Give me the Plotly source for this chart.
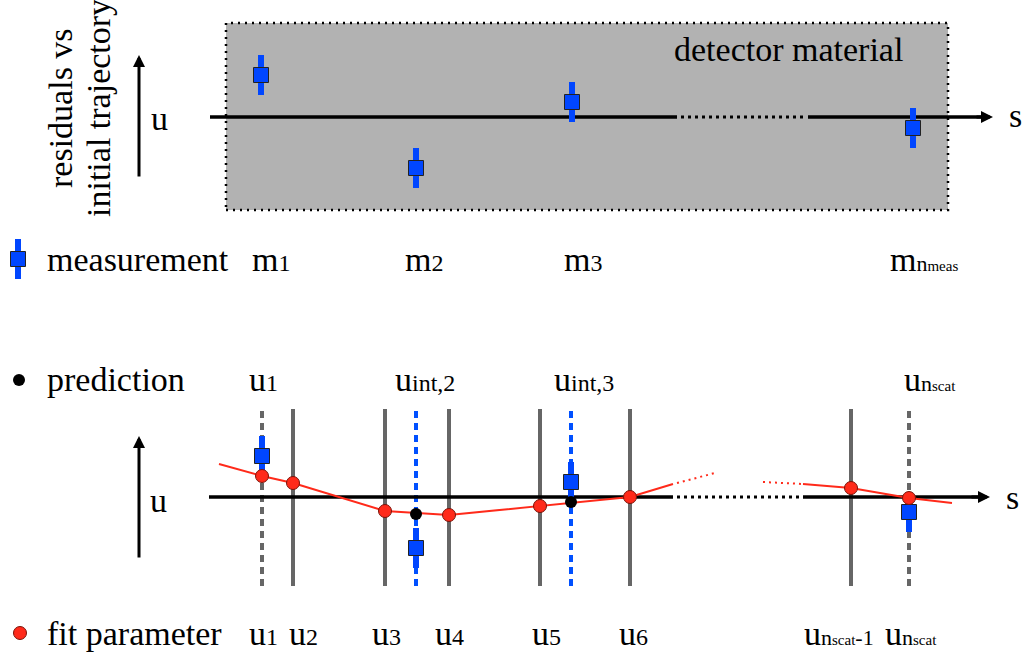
import plotly.graph_objects as go

# ---------------- data (s = position along the track, u = offset from the reference line) -------------
meas_s_top = [261, 416, 572, 913]
meas_u_top = [42, -51, 15, -11]
meas_err = [20, 20, 20, 20]

meas_s_bot = [262, 416, 571, 909]
meas_u_bot = [41, -51, 15, -15]

scat_s = [262, 293, 385, 449, 540, 630, 851, 909]
scat_has_meas = [True, False, False, False, False, False, False, True]
fit_u = [21, 14, -14, -18, -9, 0, 9, -1]

interp_s = [416, 571]
pred_u = [-17, -5]

traj_left_s = [219] + scat_s[:6] + [673]
traj_left_u = [33] + fit_u[:6] + [13]
traj_right_s = [803] + scat_s[6:] + [952]
traj_right_u = [13] + fit_u[6:] + [-6]
traj_gap_s = [677, 715, None, 763, 803]
traj_gap_u = [14, 24, None, 15, 13]


def sub(t, size=24):
    return "<span style='font-size:%dpx'>%s</span>" % (size, t)


N_SCAT = sub("n", 22) + sub("scat", 15)
N_MEAS = sub("n", 22) + sub("meas", 15)

m_labels = ["m" + sub("1"), "m" + sub("2"), "m" + sub("3"), "m" + N_MEAS]
top_u_labels = ["u" + sub("1"), "u" + sub("int,2"), "u" + sub("int,3"), "u" + N_SCAT]
bot_u_labels = ["u" + sub("1"), "u" + sub("2"), "u" + sub("3"), "u" + sub("4"), "u" + sub("5"),
                "u" + sub("6"), "u" + N_SCAT + sub("-1", 22), "u" + N_SCAT]

# ---------------- layout / style -------------
W, H = 1030, 658
AX_TOP, AX_BOT = 117, 497          # pixel rows of the two reference lines
BLUE = "#0046FF"
BLUE_LINE = "#0050FF"
RED = "#FF2A1A"
GRAY = "#666666"
FONT = "'Liberation Serif', 'Times New Roman', serif"
FS = 34

m_label_x = [250, 403, 562, 888]
top_u_label_x = [247, 393, 552, 902]
bot_u_label_x = [247, 287, 370, 433, 530, 617, 802, 883]


def py(p):
    return 1 - p / H


fig = go.Figure()

meas_marker = dict(symbol="square", size=15, color=BLUE, line=dict(color="#222222", width=1))
meas_errbar = dict(type="data", array=meas_err, visible=True, thickness=6, width=0, color=BLUE)

# top panel measurements
fig.add_trace(go.Scatter(x=meas_s_top, y=meas_u_top, mode="markers", marker=meas_marker,
                         error_y=meas_errbar, yaxis="y", hoverinfo="skip"))
# bottom panel measurements
fig.add_trace(go.Scatter(x=meas_s_bot, y=meas_u_bot, mode="markers", marker=meas_marker,
                         error_y=meas_errbar, yaxis="y2", hoverinfo="skip"))
# trajectory
fig.add_trace(go.Scatter(x=traj_left_s + [None] + traj_right_s,
                         y=traj_left_u + [None] + traj_right_u,
                         mode="lines", line=dict(color=RED, width=2), yaxis="y2", hoverinfo="skip"))
fig.add_trace(go.Scatter(x=traj_gap_s, y=traj_gap_u, mode="lines",
                         line=dict(color=RED, width=2, dash="2px,4px"), yaxis="y2", hoverinfo="skip"))
# fit parameters
fig.add_trace(go.Scatter(x=scat_s, y=fit_u, mode="markers",
                         marker=dict(symbol="circle", size=13, color=RED, line=dict(color="#7a1208", width=1)),
                         yaxis="y2", hoverinfo="skip"))
# predictions
fig.add_trace(go.Scatter(x=interp_s, y=pred_u, mode="markers",
                         marker=dict(symbol="circle", size=12, color="black"), yaxis="y2", hoverinfo="skip"))
# legend icons
fig.add_trace(go.Scatter(x=[18], y=[AX_TOP - 259], mode="markers", marker=meas_marker,
                         error_y=dict(type="data", array=[20], visible=True, thickness=6, width=0, color=BLUE),
                         yaxis="y", hoverinfo="skip"))
fig.add_trace(go.Scatter(x=[19], y=[AX_BOT - 380], mode="markers",
                         marker=dict(symbol="circle", size=12, color="black"), yaxis="y2", hoverinfo="skip"))
fig.add_trace(go.Scatter(x=[20], y=[AX_BOT - 633], mode="markers",
                         marker=dict(symbol="circle", size=13, color=RED, line=dict(color="#7a1208", width=1)),
                         yaxis="y2", hoverinfo="skip"))

shapes = []
# detector material box
shapes.append(dict(type="rect", xref="x", yref="y", x0=226, x1=948, y0=AX_TOP - 210, y1=AX_TOP - 23,
                   fillcolor="#b2b2b2", line=dict(color="black", width=2.5, dash="2px,5px"), layer="below"))
# scatterer planes (bottom panel)
for s, has_m in zip(scat_s, scat_has_meas):
    shapes.append(dict(type="line", xref="x", yref="y2", x0=s, x1=s, y0=-89, y1=88,
                       line=dict(color=GRAY, width=4, dash="7px,5px" if has_m else "solid"), layer="below"))
for s in interp_s:
    shapes.append(dict(type="line", xref="x", yref="y2", x0=s, x1=s, y0=-89, y1=88,
                       line=dict(color=BLUE_LINE, width=4, dash="7px,5px"), layer="below"))
# reference lines
for yref, segs in (("y", [(210, 677), (808, 985)]), ("y2", [(209, 673), (803, 980)])):
    for a, b in segs:
        shapes.append(dict(type="line", xref="x", yref=yref, x0=a, x1=b, y0=0, y1=0,
                           line=dict(color="black", width=3.5), layer="below"))
shapes.append(dict(type="line", xref="x", yref="y", x0=681, x1=805, y0=0, y1=0,
                   line=dict(color="black", width=3, dash="3px,4px"), layer="below"))
shapes.append(dict(type="line", xref="x", yref="y2", x0=677, x1=801, y0=0, y1=0,
                   line=dict(color="black", width=3, dash="3px,4px"), layer="below"))

ann = []
# arrowheads on the s axes
ann.append(dict(x=993, y=0, xref="x", yref="y", ax=975, ay=0, axref="x", ayref="y", text="",
                showarrow=True, arrowhead=2, arrowsize=0.8, arrowwidth=3, arrowcolor="black"))
ann.append(dict(x=990, y=0, xref="x", yref="y2", ax=970, ay=0, axref="x", ayref="y2", text="",
                showarrow=True, arrowhead=2, arrowsize=0.8, arrowwidth=3, arrowcolor="black"))
# u arrows
ann.append(dict(x=139, y=62, xref="x", yref="y", ax=139, ay=-61, axref="x", ayref="y", text="",
                showarrow=True, arrowhead=2, arrowsize=0.8, arrowwidth=3, arrowcolor="black"))
ann.append(dict(x=139, y=61, xref="x", yref="y2", ax=139, ay=-62, axref="x", ayref="y2", text="",
                showarrow=True, arrowhead=2, arrowsize=0.8, arrowwidth=3, arrowcolor="black"))


def txt(x, p, t, xanchor="left", angle=0):
    ann.append(dict(x=x, y=py(p), xref="x", yref="paper", text=t, showarrow=False,
                    xanchor=xanchor, yanchor="middle", textangle=angle,
                    font=dict(family=FONT, size=FS, color="black")))


txt(159, 118, "u", "center")
txt(158, 500, "u", "center")
txt(1015, 115, "s", "center")
txt(1012, 497, "s", "center")
txt(672, 49, "detector material")
txt(61, 108, "residuals vs", "center", -90)
txt(99, 108, "initial trajectory", "center", -90)
txt(45, 259, "measurement")
txt(45, 379, "prediction")
txt(45, 633, "fit parameter")
for x, t in zip(m_label_x, m_labels):
    txt(x, 259, t)
for x, t in zip(top_u_label_x, top_u_labels):
    txt(x, 379, t)
for x, t in zip(bot_u_label_x, bot_u_labels):
    txt(x, 633, t)

fig.update_layout(
    width=W, height=H, margin=dict(l=0, r=0, t=0, b=0),
    paper_bgcolor="white", plot_bgcolor="white", showlegend=False,
    xaxis=dict(range=[0, W], visible=False, fixedrange=True),
    yaxis=dict(range=[AX_TOP - H, AX_TOP], visible=False, fixedrange=True),
    yaxis2=dict(range=[AX_BOT - H, AX_BOT], visible=False, fixedrange=True, overlaying="y"),
    shapes=shapes, annotations=ann,
)

fig.write_html("out.html", config={"displayModeBar": False},
               post_script="document.body.style.margin='0';document.body.style.overflow='hidden';")
